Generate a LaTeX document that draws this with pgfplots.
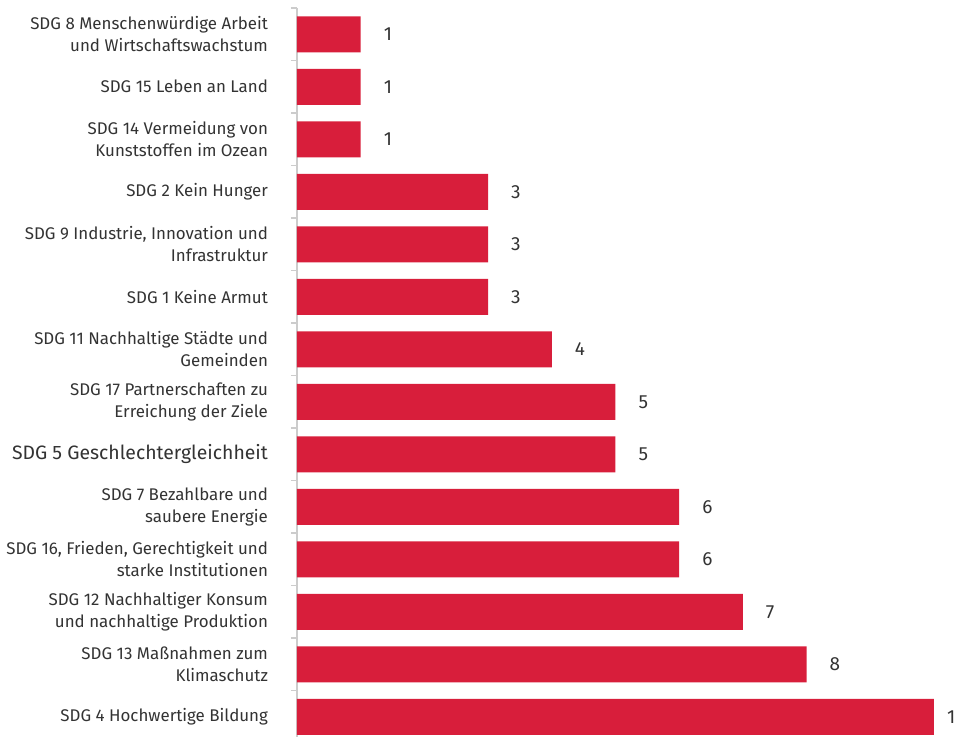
\documentclass[border=0pt]{standalone}
\usepackage{pgfplots}
\pgfplotsset{compat=1.18}
\usepackage{fontspec}
\setmainfont{Fira Sans}
\definecolor{barred}{HTML}{D81E3B}
\definecolor{txt}{HTML}{333333}
\definecolor{axgray}{HTML}{CCCCCC}
\pgfplotstableread{
val idx shift
1 0 8
1 1 8
1 2 8
3 3 8
3 4 8
3 5 8
4 6 8
5 7 8
5 8 8
6 9 8
6 10 8
7 11 8
8 12 8
10 13 3
}\datatable
\begin{document}
\begin{tikzpicture}
\begin{axis}[
  name=ax,
  scale only axis,
  width=318.5pt, height=367.5pt,
  xbar, bar width=18pt,
  xmin=0, xmax=10,
  ymin=-0.5, ymax=13.5,
  y dir=reverse,
  axis x line=none,
  axis y line=left,
  axis line style={-, axgray, line width=0.6pt},
  ytick={0,...,13},
  major tick length=0pt,
  minor ytick={-0.5,0.5,...,13.5},
  minor tick length=3pt,
  minor tick style={axgray, line width=0.6pt},
  tick align=outside,
  yticklabels={
    {SDG 8 Menschenwürdige Arbeit\\und Wirtschaftswachstum},
    {SDG 15 Leben an Land},
    {SDG 14 Vermeidung von\\Kunststoffen im Ozean},
    {SDG 2 Kein Hunger},
    {SDG 9 Industrie, Innovation und\\Infrastruktur},
    {SDG 1 Keine Armut},
    {SDG 11 Nachhaltige Städte und\\Gemeinden},
    {SDG 17 Partnerschaften zu\\Erreichung der Ziele},
    {\fontsize{9.7pt}{12pt}\selectfont SDG 5 Geschlechtergleichheit},
    {SDG 7 Bezahlbare und\\saubere Energie},
    {SDG 16, Frieden, Gerechtigkeit und\\starke Institutionen},
    {SDG 12 Nachhaltiger Konsum\\und nachhaltige Produktion},
    {SDG 13 Maßnahmen zum\\Klimaschutz},
    {SDG 4 Hochwertige Bildung}},
  yticklabel style={align=right, font=\fontsize{8.45pt}{11pt}\selectfont, text=txt, xshift=-11pt},
  /pgf/number format/assume math mode=true,
  visualization depends on={\thisrow{shift} \as \myshift},
  nodes near coords,
  nodes near coords style={anchor=west, font=\fontsize{9.5pt}{11pt}\selectfont, text=txt, xshift=\myshift*1pt},
  clip=false,
]
\addplot[fill=barred, draw=none] table[x=val, y=idx] {\datatable};
\end{axis}
\pgfresetboundingbox
\useasboundingbox ([xshift=-148.5pt,yshift=4pt]ax.north west) rectangle ([xshift=329pt,yshift=-364pt]ax.north west);
\end{tikzpicture}
\end{document}
